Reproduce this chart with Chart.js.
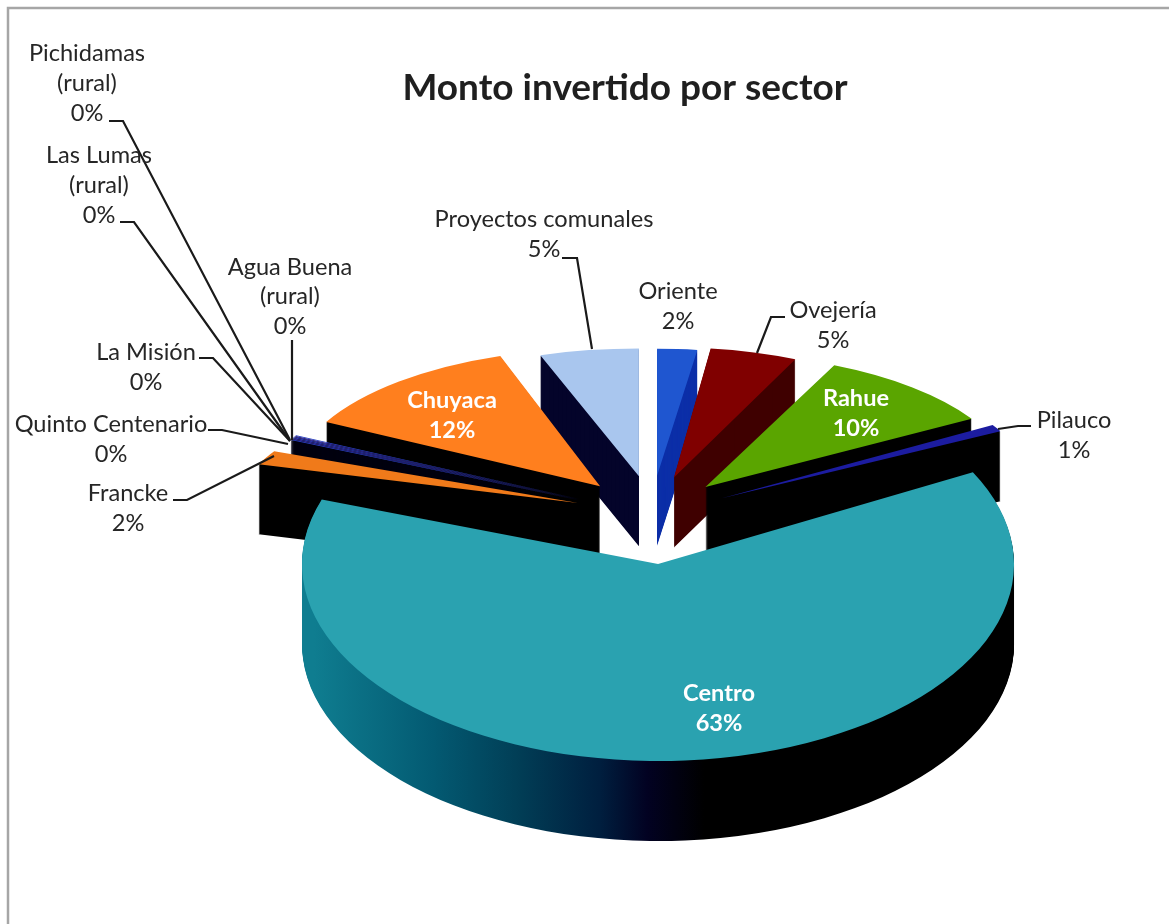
<!DOCTYPE html>
<html>
<head>
<meta charset="utf-8">
<script src="https://cdn.jsdelivr.net/npm/chart.js@4/dist/chart.umd.js"></script>
<style>
  html, body { margin: 0; padding: 0; background: #fff; }
  canvas { display: block; }
</style>
</head>
<body>
<canvas id="pieChart" width="1169" height="924"></canvas>
<script>
const categories = ['Oriente', 'Ovejería', 'Rahue', 'Pilauco', 'Centro', 'Francke', 'Quinto Centenario',
  'La Misión', 'Agua Buena (rural)', 'Las Lumas (rural)', 'Pichidamas (rural)', 'Chuyaca', 'Proyectos comunales'];
const values = [2, 4.8, 9.6, 0.8, 62.8, 1.9, 0.1, 0.1, 0.1, 0.1, 0.1, 12, 5.2];

const topColors = ['#1f56d0', '#800000', '#5aa500', '#1c1ca0', '#2aa2b0', '#f07a1a', '#2a3fc0',
  '#3a2fa8', '#2a3fc0', '#3a2fa8', '#2a3fc0', '#ff7f1e', '#a9c6ee'];
const sideColors = ['#0c2fa8', '#3f0000', '#000000', '#000000', null, '#000000', '#000010',
  '#000010', '#000010', '#000010', '#000010', '#000000', '#04042a'];
const centroSideStops = [[314, '#0f7d90'], [433, '#035a72'], [518, '#013e56'], [599, '#001f3f'], [647, '#020222'], [704, '#000000']];

// perspectiva: las porciones de atras se ven mas chicas
const sliceScaleX = [0.9, 0.82, 0.87, 0.885, 1, 0.95, 0.905, 0.905, 0.905, 0.905, 0.905, 0.87, 0.86];
const sliceScaleY = [0.645, 0.66, 0.68, 0.73, 1, 0.6, 0.7, 0.7, 0.7, 0.7, 0.7, 0.7, 0.65];
const sliceDepth = [70, 70, 70, 70, 80, 70, 70, 70, 70, 70, 70, 70, 70];
const drawOrder = [12, 0, 1, 11, 10, 9, 8, 7, 6, 5, 2, 3, 4];

const PIE_CX = 652, PIE_CY = 520, RADIUS = 356, TILT = 0.553, EXPLODE = 80;

// x centro, y de cada linea, color, negrita
const labelLayout = [
  { x: 678, ys: [291, 321] },
  { x: 833, ys: [310, 340] },
  { x: 856, ys: [398, 428], inside: true },
  { x: 1074, ys: [420, 450] },
  { x: 719, ys: [693, 723], inside: true },
  { x: 128, ys: [493, 523] },
  { x: 111, ys: [424, 454] },
  { x: 146, ys: [352, 382] },
  { x: 290, ys: [267, 296, 326] },
  { x: 99, ys: [155, 185, 215] },
  { x: 87, ys: [53, 83, 113] },
  { x: 452, ys: [400, 430], inside: true },
  { x: 544, ys: [219, 249] }
];
const leaders = [
  [[785, 317], [771, 317], [757, 353]],
  [[1031, 426], [1018, 426], [998, 429]],
  [[173, 500], [187, 500], [274, 456]],
  [[208, 430], [222, 430], [288, 444]],
  [[199, 358], [213, 358], [290, 441]],
  [[292, 340], [292, 440]],
  [[120, 222], [134, 222], [290, 441]],
  [[109, 121], [123, 121], [290, 440]],
  [[562, 258], [577, 258], [592, 349]]
];

const total = values.reduce((s, v) => s + v, 0);

const pie3d = {
  id: 'pie3d',
  beforeDraw(chart) {
    const ctx = chart.ctx;
    ctx.save();
    ctx.fillStyle = '#ffffff';
    ctx.fillRect(0, 0, chart.width, chart.height);
    ctx.strokeStyle = '#a6a6a6';
    ctx.lineWidth = 2.5;
    ctx.beginPath();
    ctx.moveTo(8, chart.height);
    ctx.lineTo(8, 8);
    ctx.lineTo(chart.width, 8);
    ctx.stroke();
    ctx.restore();
  },
  beforeDatasetDraw(chart, args) {
    const ctx = chart.ctx;
    const arcs = args.meta.data;
    drawOrder.forEach(i => {
      const arc = arcs[i];
      const mid = (arc.startAngle + arc.endAngle) / 2;
      const ox = Math.cos(mid) * EXPLODE, oy = Math.sin(mid) * EXPLODE;
      const drawAt = (k, fill) => {
        arc.options.backgroundColor = fill;
        ctx.save();
        ctx.translate(PIE_CX, PIE_CY + k);
        ctx.scale(1, TILT);
        ctx.translate(ox, oy);
        ctx.scale(sliceScaleX[i], sliceScaleY[i]);
        ctx.translate(-arc.x, -arc.y);
        arc.draw(ctx);
        ctx.restore();
      };
      let side = sideColors[i];
      if (!side) {
        const dx = arc.x - PIE_CX - ox;
        side = ctx.createLinearGradient(314 + dx, 0, 704 + dx, 0);
        centroSideStops.forEach(s => side.addColorStop((s[0] - 314) / 390, s[1]));
      }
      for (let k = sliceDepth[i]; k >= 1; k--) drawAt(k, side);
      drawAt(0, topColors[i]);
    });
    return false;
  },
  afterDraw(chart) {
    const ctx = chart.ctx;
    ctx.save();
    ctx.strokeStyle = '#1a1a1a';
    ctx.lineWidth = 2.2;
    leaders.forEach(pts => {
      ctx.beginPath();
      pts.forEach((p, n) => n ? ctx.lineTo(p[0], p[1]) : ctx.moveTo(p[0], p[1]));
      ctx.stroke();
    });
    ctx.textAlign = 'center';
    ctx.textBaseline = 'middle';
    categories.forEach((name, i) => {
      const pos = labelLayout[i];
      const rural = name.match(/^(.*) (\(rural\))$/);
      const lines = (rural ? [rural[1], rural[2]] : [name]).concat(Math.round(values[i] / total * 100) + '%');
      ctx.font = (pos.inside ? 'bold ' : '') + '23.6px Lato';
      ctx.fillStyle = pos.inside ? '#ffffff' : '#262626';
      lines.forEach((line, n) => ctx.fillText(line, pos.x, pos.ys[n]));
    });
    ctx.restore();
  }
};

new Chart(document.getElementById('pieChart'), {
  type: 'pie',
  data: {
    labels: categories,
    datasets: [{
      data: values,
      backgroundColor: topColors,
      borderWidth: 0,
      hoverOffset: 0,
      radius: RADIUS
    }]
  },
  options: {
    responsive: false,
    animation: false,
    events: [],
    layout: { padding: { left: 81 } },
    plugins: {
      legend: { display: false },
      tooltip: { enabled: false },
      title: {
        display: true,
        text: 'Monto invertido por sector',
        color: '#1f1f1f',
        font: { family: 'Lato', size: 37, weight: 'bold' },
        padding: { top: 66, bottom: 0 }
      }
    }
  },
  plugins: [pie3d]
});
</script>
</body>
</html>
